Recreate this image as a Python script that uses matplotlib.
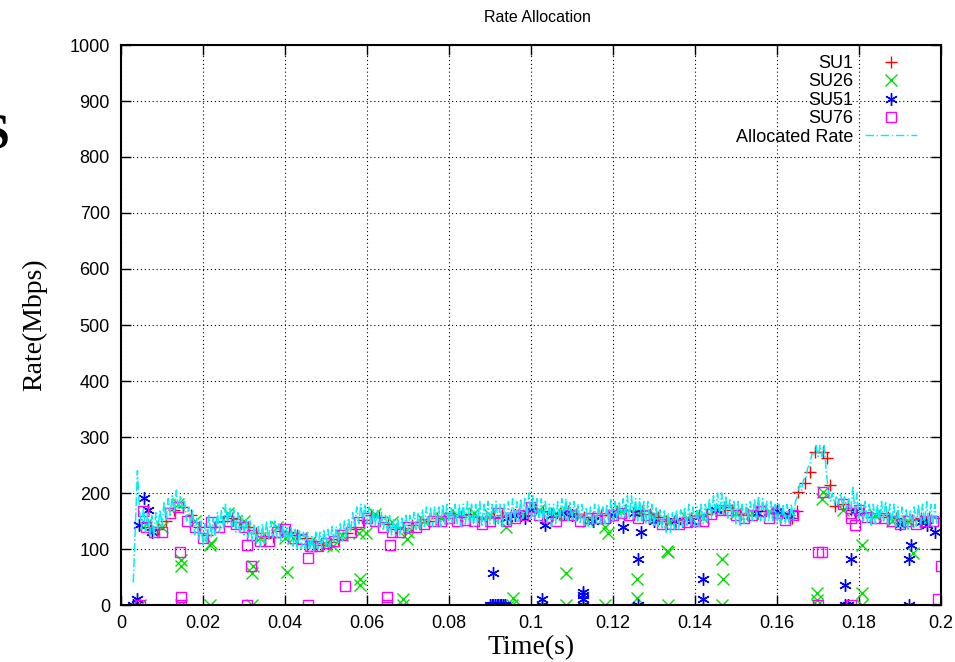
import matplotlib
matplotlib.use('Agg')
import matplotlib.pyplot as plt
import numpy as np

plt.rcParams['font.family'] = ['Liberation Sans', 'DejaVu Sans']

# allocated rate, sampled every 0.5 ms from 3 ms to 199 ms
alloc_t = np.arange(6, 399) / 2000.0
alloc_r = [
    40, 140, 240, 170, 135, 175, 130, 165, 125, 160, 120, 165, 135, 170, 140, 185, 150, 190, 160, 195,
    165, 205, 170, 195, 170, 185, 150, 175, 140, 170, 125, 155, 115, 150, 105, 145, 110, 160, 120, 155,
    125, 165, 130, 170, 135, 180, 145, 175, 140, 170, 130, 165, 130, 160, 125, 155, 120, 150, 115, 145,
    110, 140, 105, 145, 110, 150, 115, 150, 120, 150, 120, 145, 115, 145, 115, 140, 110, 140, 105, 135,
    100, 135, 100, 130, 100, 130, 95, 125, 95, 130, 100, 130, 100, 135, 105, 135, 105, 140, 110, 140,
    110, 145, 115, 150, 120, 155, 130, 165, 140, 175, 145, 180, 150, 180, 145, 175, 140, 170, 140, 170,
    140, 165, 135, 160, 130, 160, 125, 155, 125, 155, 125, 155, 130, 160, 130, 160, 135, 165, 135, 165,
    135, 170, 140, 175, 140, 175, 140, 175, 140, 175, 140, 180, 145, 180, 145, 175, 145, 180, 145, 180,
    140, 180, 145, 185, 145, 180, 140, 180, 145, 185, 140, 180, 140, 185, 145, 180, 145, 185, 145, 180,
    140, 180, 145, 185, 145, 190, 150, 185, 150, 190, 155, 190, 155, 200, 155, 195, 155, 190, 150, 190,
    150, 185, 145, 180, 140, 180, 145, 185, 150, 190, 155, 190, 150, 185, 150, 185, 150, 180, 145, 180,
    140, 175, 140, 175, 140, 180, 145, 180, 145, 175, 145, 180, 145, 190, 150, 185, 150, 185, 155, 190,
    155, 195, 155, 195, 155, 190, 150, 190, 150, 185, 145, 185, 145, 180, 140, 175, 140, 170, 135, 170,
    130, 165, 130, 165, 135, 170, 135, 170, 140, 175, 140, 180, 140, 175, 140, 175, 140, 180, 145, 180,
    150, 190, 155, 195, 160, 200, 160, 200, 160, 195, 155, 190, 155, 185, 145, 185, 140, 180, 145, 180,
    150, 185, 150, 190, 155, 195, 150, 190, 150, 185, 150, 185, 150, 180, 145, 180, 145, 180, 145, 180,
    145, 180, 150, 185, 195, 215, 205, 225, 225, 245, 250, 270, 270, 285, 265, 285, 265, 285, 240, 205,
    185, 200, 180, 195, 180, 200, 175, 195, 170, 190, 170, 210, 165, 200, 155, 180, 150, 185, 145, 180,
    140, 180, 145, 180, 150, 185, 150, 185, 145, 180, 145, 180, 140, 175, 140, 175, 135, 170, 135, 170,
    140, 175, 140, 180, 145, 180, 145, 185, 140, 180, 140, 180, 145,
]

su1_t = [0.0046,
         0.007, 0.009, 0.011, 0.013, 0.015, 0.017, 0.019, 0.021, 0.023, 0.025,
         0.027, 0.029, 0.031, 0.033, 0.035, 0.037, 0.039, 0.041, 0.043, 0.045,
         0.047, 0.049, 0.051, 0.053, 0.055, 0.057, 0.059, 0.061, 0.063, 0.065,
         0.067, 0.069, 0.071, 0.073, 0.075, 0.077, 0.079, 0.081, 0.083, 0.085,
         0.087, 0.089, 0.091, 0.093, 0.095, 0.097, 0.099, 0.101, 0.103, 0.105,
         0.107, 0.109, 0.111, 0.113, 0.115, 0.117, 0.119, 0.121, 0.123, 0.125,
         0.127, 0.129, 0.131, 0.133, 0.135, 0.137, 0.139, 0.141, 0.143, 0.145,
         0.147, 0.149, 0.151, 0.153, 0.155, 0.157, 0.159, 0.161, 0.163,
         0.1636, 0.1649, 0.1652, 0.1668, 0.168, 0.1693, 0.1713, 0.1721, 0.173, 0.1741,
         0.176, 0.178, 0.181, 0.183, 0.185, 0.187, 0.189, 0.191, 0.193, 0.195,
         0.197, 0.1998]
su1_r = [0,
         140, 135, 150, 170, 175, 160, 140, 125, 140, 150,
         155, 148, 140, 128, 120, 122, 132, 130, 125, 120,
         110, 108, 112, 118, 128, 135, 152, 160, 158, 145,
         135, 138, 142, 148, 150, 155, 155, 160, 158, 162,
         158, 155, 158, 160, 160, 165, 168, 172, 168, 162,
         165, 168, 162, 158, 158, 160, 160, 168, 170, 170,
         168, 162, 158, 150, 148, 152, 155, 160, 162, 168,
         175, 170, 162, 160, 168, 168, 165, 162, 160,
         155, 167, 202, 218, 238, 274, 274, 262, 214, 177,
         180, 170, 165, 158, 160, 158, 155, 150, 152, 155,
         158, 155]

su26_t = [0.006, 0.010, 0.014, 0.018, 0.022, 0.026, 0.030, 0.034, 0.038, 0.042,
          0.046, 0.050, 0.054, 0.058, 0.062, 0.066, 0.070, 0.074, 0.078, 0.082,
          0.086, 0.090, 0.094, 0.098, 0.102, 0.106, 0.110, 0.114, 0.122, 0.126,
          0.130, 0.134, 0.138, 0.142, 0.150, 0.154, 0.158, 0.162, 0.176, 0.184,
          0.188, 0.192, 0.196,
          0.0046, 0.0146, 0.0146, 0.0146, 0.0217, 0.0217, 0.0319, 0.0322, 0.032,
          0.0406, 0.040, 0.0517, 0.0583, 0.0583, 0.0598, 0.0688, 0.0688, 0.0697,
          0.0957, 0.0954, 0.0946, 0.1085, 0.1085, 0.118, 0.118, 0.1189, 0.1258,
          0.1258, 0.1335, 0.1332, 0.1335, 0.1467, 0.1468, 0.1467, 0.1709, 0.1711,
          0.1697, 0.1697, 0.1697, 0.1808, 0.1808, 0.1808, 0.1932]
su26_r = [145, 140, 180, 150, 110, 165, 150, 120, 140, 120,
          112, 108, 125, 128, 162, 148, 130, 150, 155, 160,
          165, 160, 140, 160, 170, 165, 165, 150, 168, 165,
          158, 150, 155, 155, 165, 165, 168, 160, 170, 160,
          150, 150, 150,
          0, 80, 70, 0, 107, 0, 57, 70, 0,
          59, 119, 105, 46, 35, 128, 11, 0, 118,
          12, 0, 0, 58, 0, 0, 140, 129, 46,
          12, 95, 97, 0, 83, 46, 0, 190, 202,
          22, 9, 0, 107, 22, 0, 93]

su51_t = [0.003, 0.0038, 0.0044, 0.0057, 0.0066, 0.0075,
          0.0908, 0.0900, 0.0904, 0.0908, 0.0912, 0.0916, 0.0920, 0.0924, 0.0928,
          0.0932, 0.0936, 0.1028, 0.1028, 0.1034, 0.1128, 0.1128, 0.1128, 0.1128,
          0.1225, 0.1268, 0.1262, 0.1262, 0.1419, 0.1419, 0.1767, 0.1766, 0.1772,
          0.178, 0.179, 0.1928, 0.1922, 0.1922, 0.1985, 0.1965,
          0.0941, 0.0985, 0.096, 0.100, 0.105, 0.108, 0.110, 0.115, 0.120, 0.125,
          0.130, 0.135, 0.139, 0.145, 0.155, 0.160, 0.163, 0.190, 0.195]
su51_r = [0, 11, 143, 191, 170, 131,
          58, 0, 0, 0, 0, 0, 0, 0, 0,
          0, 0, 11, 0, 142, 24, 18, 11, 0,
          140, 130, 83, 0, 46, 11, 36, 0, 0,
          83, 168, 107, 83, 0, 131, 143,
          155, 155, 160, 170, 160, 165, 160, 150, 160, 165,
          150, 150, 150, 170, 165, 168, 160, 145, 148]

su76_t = [0.006, 0.008, 0.010, 0.012, 0.014, 0.016, 0.018, 0.020, 0.022, 0.024,
          0.026, 0.028, 0.030, 0.032, 0.034, 0.036, 0.038, 0.040, 0.042, 0.044,
          0.046, 0.048, 0.050, 0.052, 0.054, 0.056, 0.058, 0.060, 0.062, 0.064,
          0.066, 0.068, 0.070, 0.072, 0.074, 0.076, 0.078, 0.080, 0.082, 0.084,
          0.086, 0.088, 0.090, 0.092, 0.094, 0.096, 0.098, 0.100, 0.102, 0.104,
          0.106, 0.108, 0.110, 0.112, 0.114, 0.116, 0.118, 0.120, 0.122, 0.124,
          0.126, 0.128, 0.130, 0.132, 0.134, 0.136, 0.138, 0.140, 0.142, 0.144,
          0.146, 0.148, 0.150, 0.152, 0.154, 0.156, 0.158, 0.160, 0.162, 0.164,
          0.176, 0.178, 0.180, 0.182, 0.184, 0.186, 0.188, 0.190, 0.192, 0.194,
          0.196, 0.198,
          0.0046, 0.0054, 0.0144, 0.0146, 0.0146, 0.0307, 0.0316, 0.0307, 0.0455,
          0.0455, 0.0466, 0.0546, 0.0656, 0.0648, 0.0648, 0.1701, 0.171, 0.1701,
          0.1711, 0.178, 0.179, 0.178, 0.1999, 0.1993]
su76_r = [140, 130, 130, 165, 175, 150, 140, 120, 148, 140,
          150, 145, 140, 125, 115, 115, 130, 135, 120, 118,
          105, 105, 110, 115, 125, 130, 148, 155, 150, 140,
          130, 130, 140, 140, 145, 150, 150, 155, 150, 152,
          150, 145, 150, 165, 150, 155, 160, 175, 160, 158,
          150, 160, 160, 150, 155, 155, 155, 160, 165, 160,
          155, 160, 155, 145, 145, 145, 148, 150, 150, 162,
          170, 170, 160, 155, 160, 168, 155, 165, 152, 160,
          180, 165, 170, 158, 155, 155, 150, 145, 150, 145,
          150, 150,
          0, 168, 95, 14, 0, 107, 70, 0, 84,
          0, 105, 34, 107, 14, 0, 95, 95, 0,
          202, 155, 143, 0, 70, 11]

x_ticks = [0, 0.02, 0.04, 0.06, 0.08, 0.1, 0.12, 0.14, 0.16, 0.18, 0.2]
x_labels = ['0', '0.02', '0.04', '0.06', '0.08', '0.1', '0.12', '0.14', '0.16', '0.18', '0.2']
y_ticks = list(range(0, 1001, 100))

fig = plt.figure(figsize=(9.55, 6.62), dpi=100)
ax = fig.add_axes([121 / 955, 57 / 662, 820 / 955, 560 / 662])

ax.plot(su1_t, su1_r, ls='none', marker='+', ms=9, mew=1, color='#ff0000', label='SU1')
ax.plot(su26_t, su26_r, ls='none', marker='x', ms=8, mew=1, color='#00e000', label='SU26')
ax.plot(su51_t, su51_r, ls='none', marker=(6, 2, 0), ms=9, mew=1, color='#0000ff', label='SU51')
ax.plot(su76_t, su76_r, ls='none', marker='s', ms=7, mew=1, mfc='none', color='#ff00ff', label='SU76')
ax.plot(alloc_t, alloc_r, ls=(0, (6, 1.5, 1, 1.5)), lw=1.1, color='#00f0f0',
        label='Allocated Rate')

ax.set_xlim(0, 0.2)
ax.set_ylim(0, 1000)
ax.set_xticks(x_ticks)
ax.set_xticklabels(x_labels)
ax.set_yticks(y_ticks)
ax.tick_params(direction='in', length=7, width=1, top=True, right=True, labelsize=13)
ax.tick_params(axis='x', pad=7)
ax.tick_params(axis='y', pad=8)
ax.grid(True, color='black', ls=(0, (1, 2.5)), lw=0.8)
for s in ax.spines.values():
    s.set_linewidth(1.5)

ax.set_xlabel('Time(s)', family='Liberation Serif', fontsize=20)
ax.set_ylabel('Rate(Mbps)', family='Liberation Serif', fontsize=20)
ax.xaxis.set_label_coords(0.5, -0.053)
ax.yaxis.set_label_coords(-0.09, 0.5)

fig.text(537 / 955, 1 - 17 / 662, 'Rate Allocation', fontsize=11.5, ha='center', va='center')

# cropped heading letter at the left edge of the page
fig.text(9 / 955, 1 - 148 / 662, 'S', family='Liberation Serif', fontweight='bold',
         fontsize=36, ha='right', va='baseline')

leg = ax.legend(loc='upper right', bbox_to_anchor=(917 / 955, 1 - 55 / 662),
                bbox_transform=fig.transFigure, markerfirst=False, frameon=False,
                fontsize=13, numpoints=1, handlelength=2.9, handletextpad=0.65,
                labelspacing=0.08, borderpad=0, borderaxespad=0)
leg.get_lines()[-1].set_linewidth(1)
leg.get_lines()[-1].set_linestyle((0, (6, 2, 1, 2)))

fig.savefig('out.png', dpi=100)
